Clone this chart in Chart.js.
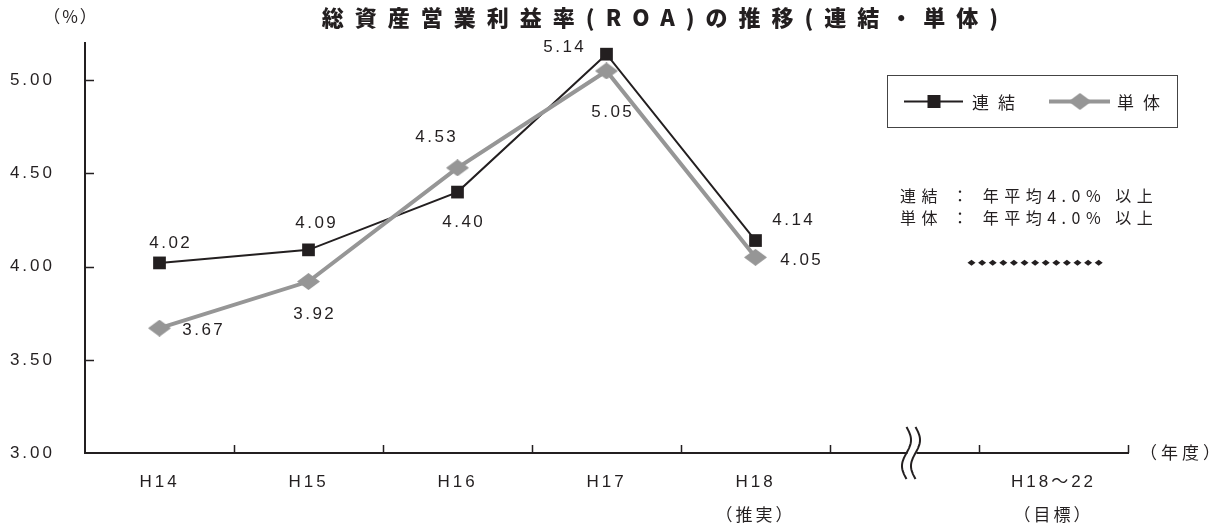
<!DOCTYPE html>
<html lang="ja">
<head>
<meta charset="utf-8">
<title>総資産営業利益率(ROA)の推移</title>
<script src="https://cdn.jsdelivr.net/npm/chart.js@4.4.1/dist/chart.umd.min.js"></script>
<style>
  html, body { margin: 0; padding: 0; background: #fff; }
  #wrap { width: 1232px; height: 530px; }
</style>
</head>
<body>
<div id="wrap"><canvas id="roaChart" width="1232" height="530"></canvas></div>
<script>
// 年度(H18の後ろは省略区間)
const years = [['H14'], ['H15'], ['H16'], ['H17'], ['H18', '（推実）'], [''], ['H18～22', '（目標）']];
// ROA (%)
const consolidated = [4.02, 4.09, 4.40, 5.14, 4.14, null, null];
const nonConsolidated = [3.67, 3.92, 4.53, 5.05, 4.05, null, null];
// 目標
const targetRoa = 4.0;
const targetNotes = ['連結 ： 年平均4.0% 以上', '単体 ： 年平均4.0% 以上'];
const yTicks = [3.0, 3.5, 4.0, 4.5, 5.0];

const chartTitle = '総資産営業利益率(ROA)の推移(連結・単体)';
const ink = '#231f20';
const gray = '#969696';
const JP = "'Noto Sans CJK JP', sans-serif";
const NUM = "'Liberation Sans', 'Noto Sans CJK JP', sans-serif";

// 値ラベルの位置(点からのずれ)
const labelOffsets = [
    [[10, -20], [7, -27], [5, 30], [-43, -7], [37, -20]],
    [[43, 2], [5, 33], [-22, -31], [5, 41], [45, 3]]
];

// 単体のひし形マーカー
function diamondCanvas(w, h, color) {
    const c = document.createElement('canvas');
    c.width = w;
    c.height = h;
    const g = c.getContext('2d');
    g.fillStyle = color;
    g.beginPath();
    g.moveTo(w / 2, 0);
    g.lineTo(w, h / 2);
    g.lineTo(w / 2, h);
    g.lineTo(0, h / 2);
    g.closePath();
    g.fill();
    return c;
}
const diamond = diamondCanvas(23, 17, gray);

function drawText(ctx, str, x, y, font, spacing, align) {
    align = align || 'center';
    ctx.save();
    ctx.font = font;
    ctx.letterSpacing = spacing + 'px';
    ctx.fillStyle = ink;
    ctx.textBaseline = 'middle';
    ctx.textAlign = align;
    // 字間は末尾にも付くので中央・右揃えのときは補正する
    const dx = align === 'left' ? 0 : (align === 'right' ? spacing : spacing / 2);
    ctx.fillText(str, x + dx, y);
    ctx.restore();
}

// 目盛り文字の字間
const spacingPlugin = {
    id: 'spacing',
    beforeLayout(chart) { chart.ctx.letterSpacing = '3px'; },
    beforeDraw(chart) { chart.ctx.letterSpacing = '3px'; }
};

const decorPlugin = {
    id: 'decor',
    afterDraw(chart) {
        const ctx = chart.ctx;
        const x = chart.scales.x;
        const y = chart.scales.y;
        const area = chart.chartArea;
        const step = x.getPixelForValue(1) - x.getPixelForValue(0);

        drawText(ctx, chartTitle, 660, 18, '900 22px ' + JP, 11);
        drawText(ctx, '（%）', 70, 17, '17px ' + JP, 2);
        drawText(ctx, '（年度）', area.right + 12, area.bottom, '17px ' + JP, 4, 'left');

        // 内向きの目盛り
        ctx.save();
        ctx.strokeStyle = ink;
        ctx.lineWidth = 1.5;
        ctx.beginPath();
        for (let i = 1; i <= years.length; i++) {
            const px = Math.round(area.left + i * step) + 0.5;
            ctx.moveTo(px, area.bottom);
            ctx.lineTo(px, area.bottom - 8);
        }
        yTicks.slice(1).forEach(v => {
            const py = Math.round(y.getPixelForValue(v)) + 0.5;
            ctx.moveTo(area.left, py);
            ctx.lineTo(area.left + 9, py);
        });
        ctx.stroke();
        ctx.restore();

        // 省略記号
        const bx = x.getPixelForValue(5) + 6;
        ctx.save();
        ctx.fillStyle = '#fff';
        ctx.fillRect(bx - 3, area.bottom - 3, 9, 6);
        ctx.strokeStyle = ink;
        ctx.lineWidth = 2;
        [bx - 4, bx + 5].forEach(cx => {
            ctx.beginPath();
            for (let t = 0; t <= 40; t++) {
                const py = area.bottom - 26 + t * 1.3;
                const px = cx + 4.5 * Math.sin(2 * Math.PI * t / 40);
                if (t === 0) ctx.moveTo(px, py); else ctx.lineTo(px, py);
            }
            ctx.stroke();
        });
        ctx.restore();

        // 凡例
        const lx = 887.5, ly = 75.5, lw = 290, lh = 52;
        ctx.save();
        ctx.strokeStyle = '#444';
        ctx.lineWidth = 1;
        ctx.strokeRect(lx, ly, lw, lh);
        const my = ly + lh / 2;
        ctx.strokeStyle = ink;
        ctx.lineWidth = 2;
        ctx.beginPath();
        ctx.moveTo(904, my);
        ctx.lineTo(963, my);
        ctx.stroke();
        ctx.fillStyle = ink;
        ctx.fillRect(934 - 6.5, my - 6.5, 13, 13);
        ctx.strokeStyle = gray;
        ctx.lineWidth = 4;
        ctx.beginPath();
        ctx.moveTo(1049, my);
        ctx.lineTo(1110, my);
        ctx.stroke();
        ctx.drawImage(diamond, 1080 - diamond.width / 2, my - diamond.height / 2);
        ctx.restore();
        drawText(ctx, '連結', 972, my + 1, '17px ' + JP, 9, 'left');
        drawText(ctx, '単体', 1117, my + 1, '17px ' + JP, 9, 'left');

        // 目標
        drawText(ctx, targetNotes[0], 900, 196, '16px ' + JP, 5.5, 'left');
        drawText(ctx, targetNotes[1], 900, 218, '16px ' + JP, 5.5, 'left');
        const tc = x.getPixelForValue(6);
        const ty = y.getPixelForValue(targetRoa) - 4;
        ctx.save();
        ctx.fillStyle = ink;
        for (let i = 0; i < 13; i++) {
            const dx = tc - 82 + i * 10.6;
            ctx.beginPath();
            ctx.moveTo(dx - 4, ty);
            ctx.lineTo(dx, ty - 3);
            ctx.lineTo(dx + 4, ty);
            ctx.lineTo(dx, ty + 3);
            ctx.closePath();
            ctx.fill();
        }
        ctx.restore();

        // 値ラベル
        chart.data.datasets.forEach((ds, di) => {
            const meta = chart.getDatasetMeta(di);
            ds.data.forEach((v, i) => {
                if (v === null) return;
                const pt = meta.data[i];
                const off = labelOffsets[di][i];
                drawText(ctx, v.toFixed(2), pt.x + off[0], pt.y + off[1], '17px ' + NUM, 2.5);
            });
        });
    }
};

const ctx = document.getElementById('roaChart').getContext('2d');
new Chart(ctx, {
    type: 'line',
    data: {
        labels: years,
        datasets: [{
            label: '連結',
            data: consolidated,
            borderColor: ink,
            borderWidth: 2,
            pointStyle: 'rect',
            pointRadius: 9,
            pointBackgroundColor: ink,
            pointBorderWidth: 0,
            tension: 0,
            order: 1
        }, {
            label: '単体',
            data: nonConsolidated,
            borderColor: gray,
            borderWidth: 4,
            pointStyle: diamond,
            pointRadius: 9,
            tension: 0,
            order: 0
        }]
    },
    options: {
        responsive: false,
        animation: false,
        devicePixelRatio: 1,
        layout: { padding: { top: 43, right: 104, left: 0, bottom: 0 } },
        plugins: {
            legend: { display: false },
            tooltip: { enabled: false }
        },
        scales: {
            x: {
                offset: true,
                grid: { display: false, offset: true, drawTicks: false },
                border: { display: true, color: ink, width: 2 },
                ticks: {
                    color: ink,
                    padding: 12,
                    autoSkip: false,
                    maxRotation: 0,
                    font: { family: NUM, size: 17, lineHeight: 2 }
                },
                afterFit: s => { s.height = 77; }
            },
            y: {
                min: 3,
                max: 5.2,
                afterBuildTicks: s => { s.ticks = yTicks.map(v => ({ value: v })); },
                grid: { display: false, drawTicks: false },
                border: { display: true, color: ink, width: 2 },
                ticks: {
                    color: ink,
                    padding: 30,
                    font: { family: NUM, size: 17 },
                    callback: v => v.toFixed(2)
                },
                afterFit: s => { s.width = 85; }
            }
        }
    },
    plugins: [spacingPlugin, decorPlugin]
});
</script>
</body>
</html>
